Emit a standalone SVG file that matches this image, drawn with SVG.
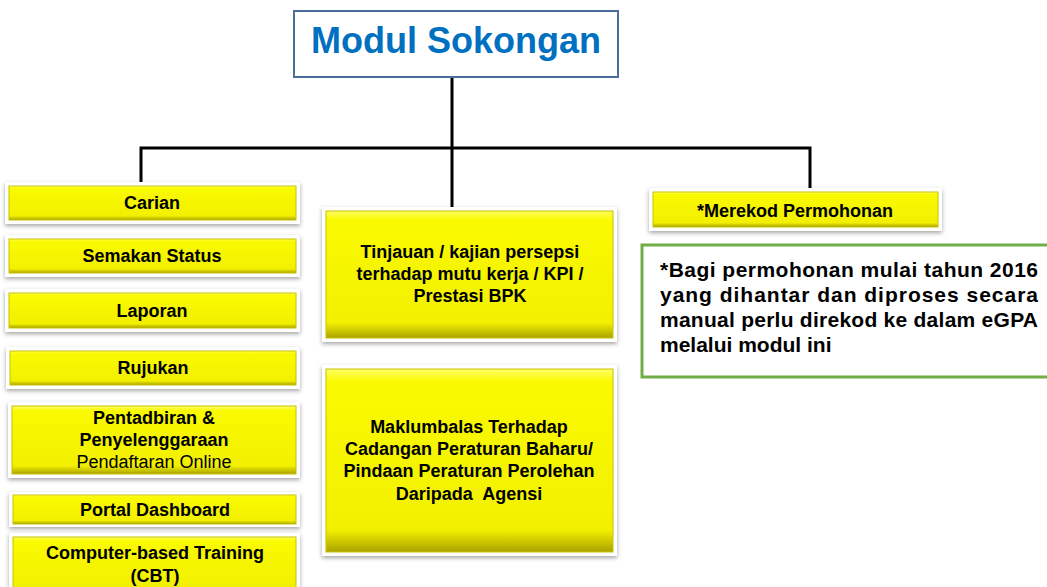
<svg xmlns="http://www.w3.org/2000/svg" width="1047" height="587" viewBox="0 0 1047 587">
<defs>
<linearGradient id="yel" x1="0" y1="0" x2="0" y2="1">
<stop offset="0" stop-color="#ffff66"/>
<stop offset="0.07" stop-color="#fafa00"/>
<stop offset="0.88" stop-color="#f2f000"/>
<stop offset="1" stop-color="#aaa200"/>
</linearGradient>
<filter id="sh" x="-10%" y="-20%" width="120%" height="150%">
<feDropShadow dx="0" dy="2" stdDeviation="2" flood-color="#000" flood-opacity="0.35"/>
</filter>
<style>
.frame{fill:#fff;filter:url(#sh)}
.yel{fill:url(#yel);stroke:#c8c200;stroke-width:1}
.t{font-family:"Liberation Sans",Arial,sans-serif;font-weight:bold;font-size:18px;fill:#000;text-anchor:middle}
.n{font-weight:normal}
.note{font-family:"Liberation Sans",Arial,sans-serif;font-weight:bold;font-size:21px;fill:#000}
.wire{fill:none;stroke:#000;stroke-width:3}
</style>
</defs>
<rect width="1047" height="587" fill="#fff"/>

<g id="connectors">
<path class="wire" d="M452 77 V207"/>
<path class="wire" d="M141 183 V148 H810 V189"/>
</g>

<g id="title">
<rect x="294" y="11" width="324" height="66" fill="#fff" stroke="#4a6d9c" stroke-width="2"/>
<text x="456" y="53" font-family="'Liberation Sans',Arial,sans-serif" font-weight="bold" font-size="36" fill="#0070c0" text-anchor="middle">Modul Sokongan</text>
</g>

<g id="carian">
<rect class="frame" x="5" y="182" width="295" height="42"/>
<rect class="yel" x="9" y="186" width="287" height="34"/>
<text class="t" x="152" y="209">Carian</text>
</g>
<g id="semakan">
<rect class="frame" x="5" y="235" width="295" height="42"/>
<rect class="yel" x="9" y="239" width="287" height="34"/>
<text class="t" x="152" y="262">Semakan Status</text>
</g>
<g id="laporan">
<rect class="frame" x="5" y="289" width="295" height="43"/>
<rect class="yel" x="9" y="293" width="287" height="35"/>
<text class="t" x="152" y="317">Laporan</text>
</g>
<g id="rujukan">
<rect class="frame" x="6" y="347" width="294" height="42"/>
<rect class="yel" x="10" y="351" width="286" height="34"/>
<text class="t" x="153" y="374">Rujukan</text>
</g>
<g id="pentadbiran">
<rect class="frame" x="8" y="402" width="292" height="76"/>
<rect class="yel" x="12" y="406" width="284" height="68"/>
<text class="t" x="154" y="424">Pentadbiran &amp;</text>
<text class="t" x="154" y="446">Penyelenggaraan</text>
<text class="t n" x="154" y="468">Pendaftaran Online</text>
</g>
<g id="portal">
<rect class="frame" x="9" y="492" width="291" height="35"/>
<rect class="yel" x="13" y="495" width="283" height="29"/>
<text class="t" x="155" y="516">Portal Dashboard</text>
</g>
<g id="cbt">
<rect class="frame" x="9" y="533" width="291" height="60"/>
<rect class="yel" x="13" y="537" width="283" height="56"/>
<text class="t" x="155" y="559">Computer-based Training</text>
<text class="t" x="155" y="582">(CBT)</text>
</g>

<g id="tinjauan">
<rect class="frame" x="322" y="207" width="295" height="135"/>
<rect class="yel" x="326" y="211" width="287" height="127"/>
<text class="t" x="470" y="258">Tinjauan / kajian persepsi</text>
<text class="t" x="470" y="280">terhadap mutu  kerja / KPI /</text>
<text class="t" x="470" y="302">Prestasi BPK</text>
</g>
<g id="maklumbalas">
<rect class="frame" x="322" y="365" width="295" height="191"/>
<rect class="yel" x="326" y="369" width="287" height="183"/>
<text class="t" x="469" y="433">Maklumbalas Terhadap</text>
<text class="t" x="469" y="455">Cadangan Peraturan Baharu/</text>
<text class="t" x="469" y="477">Pindaan Peraturan Perolehan</text>
<text class="t" x="469" y="500" xml:space="preserve">Daripada  Agensi</text>
</g>

<g id="merekod">
<rect class="frame" x="649" y="188" width="293" height="43"/>
<rect class="yel" x="653" y="192" width="285" height="35"/>
<text class="t" x="795" y="217">*Merekod Permohonan</text>
</g>

<g id="nota">
<rect x="642" y="245" width="410" height="132" fill="#fff" stroke="#70ad47" stroke-width="3"/>
<text class="note" x="660" y="277" textLength="378" lengthAdjust="spacing">*Bagi permohonan mulai tahun 2016</text>
<text class="note" x="660" y="302" textLength="378" lengthAdjust="spacing">yang dihantar dan diproses secara</text>
<text class="note" x="660" y="327" textLength="378" lengthAdjust="spacing">manual perlu direkod ke dalam eGPA</text>
<text class="note" x="660" y="352">melalui modul ini</text>
</g>
</svg>
